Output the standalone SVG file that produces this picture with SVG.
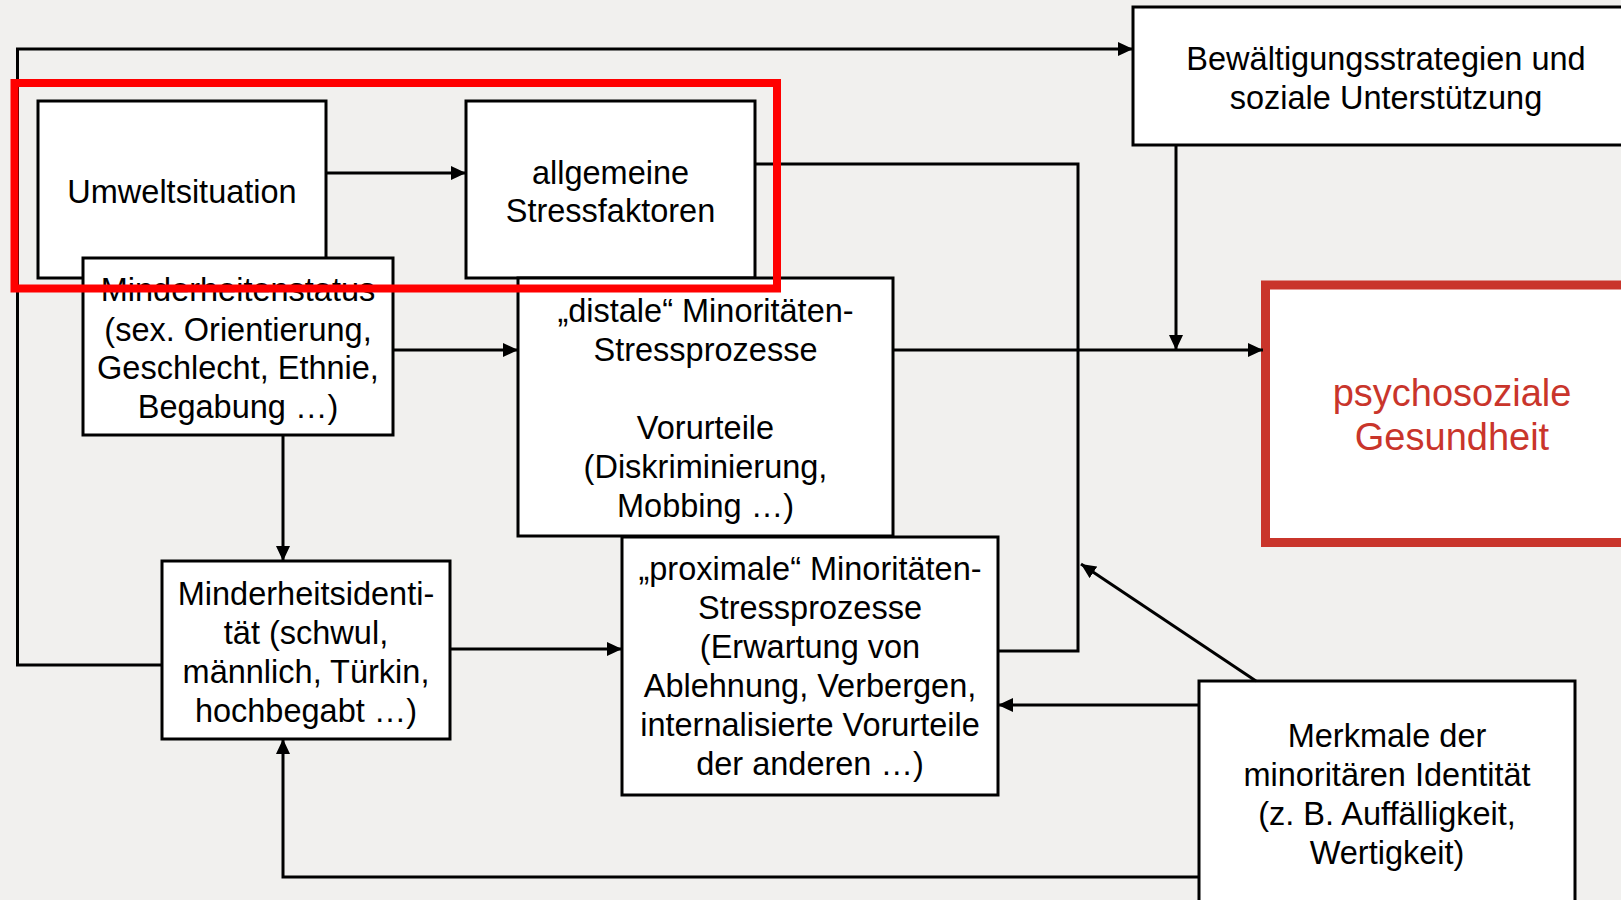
<svg xmlns="http://www.w3.org/2000/svg" width="1621" height="900" viewBox="0 0 1621 900">
<style>
.bg{fill:#f1f0ee}
.box{fill:#fff;stroke:#000;stroke-width:3}
.t{font-family:"Liberation Sans",Arial,sans-serif;font-size:32.5px;fill:#000;text-anchor:middle}
.red{font-family:"Liberation Sans",Arial,sans-serif;font-size:38px;fill:#c9352b;text-anchor:middle}
.c{fill:none;stroke:#000;stroke-width:3}
</style>
<defs>
<marker id="ah" markerUnits="userSpaceOnUse" markerWidth="15" markerHeight="14" refX="15" refY="7" orient="auto">
<path d="M0,0 L15,7 L0,14 z" fill="#000"/>
</marker>
</defs>
<rect class="bg" x="0" y="0" width="1621" height="900"/>

<g id="bewaeltigung">
<rect class="box" x="1133" y="7" width="500" height="138"/>
<text class="t" x="1386" y="70">Bewältigungsstrategien und</text>
<text class="t" x="1386" y="109">soziale Unterstützung</text>
</g>
<g id="umwelt">
<rect class="box" x="38" y="101" width="288" height="177"/>
<text class="t" x="182" y="203">Umweltsituation</text>
</g>
<g id="allgemeine">
<rect class="box" x="466" y="101" width="289" height="177"/>
<text class="t" x="610.5" y="184">allgemeine</text>
<text class="t" x="610.5" y="222">Stressfaktoren</text>
</g>
<g id="minderheitenstatus">
<rect class="box" x="83" y="258" width="310" height="177"/>
<text class="t" x="238" y="301">Minderheitenstatus</text>
<text class="t" x="238" y="341">(sex. Orientierung,</text>
<text class="t" x="238" y="379">Geschlecht, Ethnie,</text>
<text class="t" x="238" y="418">Begabung …)</text>
</g>
<g id="distale">
<rect class="box" x="518" y="278" width="375" height="258"/>
<text class="t" x="705.5" y="322">„distale“ Minoritäten-</text>
<text class="t" x="705.5" y="361">Stressprozesse</text>
<text class="t" x="705.5" y="439">Vorurteile</text>
<text class="t" x="705.5" y="478">(Diskriminierung,</text>
<text class="t" x="705.5" y="517">Mobbing …)</text>
</g>
<g id="psychosoziale">
<rect x="1265.5" y="285" width="400" height="257.5" fill="#fff" stroke="#c9352b" stroke-width="9"/>
<text class="red" x="1452" y="406">psychosoziale</text>
<text class="red" x="1452" y="450">Gesundheit</text>
</g>
<g id="minderheitsidentitaet">
<rect class="box" x="162" y="561" width="288" height="178"/>
<text class="t" x="306" y="605">Minderheitsidenti-</text>
<text class="t" x="306" y="644">tät (schwul,</text>
<text class="t" x="306" y="683">männlich, Türkin,</text>
<text class="t" x="306" y="722">hochbegabt …)</text>
</g>
<g id="proximale">
<rect class="box" x="622" y="537" width="376" height="258"/>
<text class="t" x="810" y="580">„proximale“ Minoritäten-</text>
<text class="t" x="810" y="619">Stressprozesse</text>
<text class="t" x="810" y="658">(Erwartung von</text>
<text class="t" x="810" y="697">Ablehnung, Verbergen,</text>
<text class="t" x="810" y="736">internalisierte Vorurteile</text>
<text class="t" x="810" y="775">der anderen …)</text>
</g>
<g id="merkmale">
<rect class="box" x="1199" y="681" width="376" height="240"/>
<text class="t" x="1387" y="747">Merkmale der</text>
<text class="t" x="1387" y="786">minoritären Identität</text>
<text class="t" x="1387" y="825">(z. B. Auffälligkeit,</text>
<text class="t" x="1387" y="864">Wertigkeit)</text>
</g>

<g id="connectors">
<path class="c" d="M162,665 H17.5 V49 H1133" marker-end="url(#ah)"/>
<path class="c" d="M326,173 H466" marker-end="url(#ah)"/>
<path class="c" d="M393,350 H518" marker-end="url(#ah)"/>
<path class="c" d="M283,435 V561" marker-end="url(#ah)"/>
<path class="c" d="M450,649 H622" marker-end="url(#ah)"/>
<path class="c" d="M755,164 H1078 V651 H998"/>
<path class="c" d="M893,350 H1263" marker-end="url(#ah)"/>
<path class="c" d="M1176,145 V350" marker-end="url(#ah)"/>
<path class="c" d="M1256,681 L1081,564" marker-end="url(#ah)"/>
<path class="c" d="M1199,705 H998" marker-end="url(#ah)"/>
<path class="c" d="M1199,877 H283 V739" marker-end="url(#ah)"/>
</g>

<g id="highlight">
<rect x="14.5" y="83" width="762.5" height="205.5" fill="none" stroke="#ff0000" stroke-width="8"/>
</g>
</svg>
